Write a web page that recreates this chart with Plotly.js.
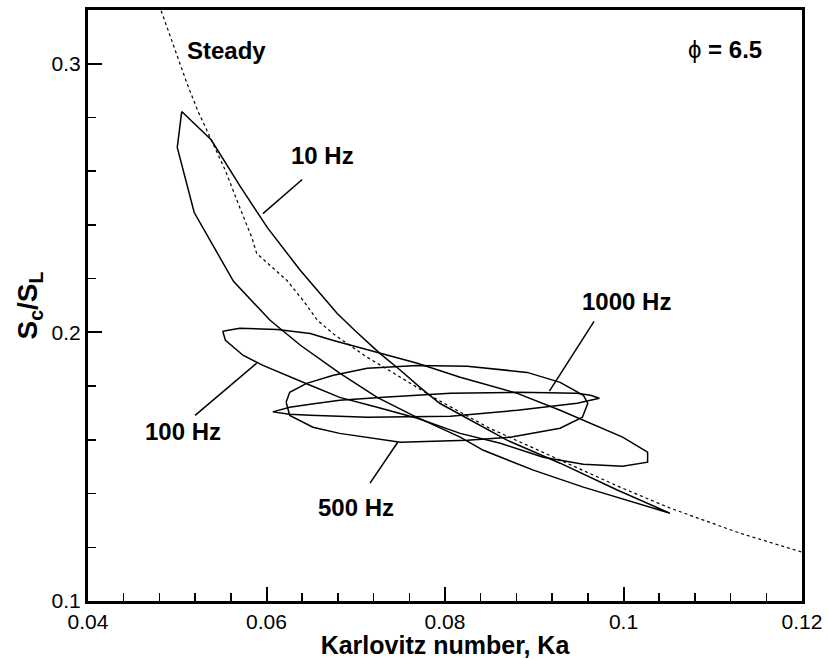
<!DOCTYPE html>
<html>
<head>
<meta charset="utf-8">
<script src="https://cdn.plot.ly/plotly-3.0.1.min.js"></script>
<style>html,body{margin:0;padding:0;background:#fff;}#chart{width:828px;height:659px;}</style>
</head>
<body>
<div id="chart"></div>
<script>
// Steady (dotted) curve
const steadyKa = [0.0482, 0.0498, 0.0511, 0.0523, 0.0537, 0.0554, 0.0570, 0.0584, 0.0589, 0.0604, 0.0623, 0.0641, 0.0657, 0.0677, 0.0713, 0.0750, 0.0787, 0.0850, 0.0929, 0.0996, 0.1052, 0.1130, 0.1200];
const steadyS  = [0.3197, 0.3048, 0.2926, 0.2825, 0.2725, 0.2602, 0.2465, 0.2349, 0.2294, 0.2249, 0.2193, 0.2119, 0.2045, 0.1989, 0.1907, 0.1833, 0.1758, 0.1643, 0.1524, 0.1424, 0.1346, 0.1253, 0.1182];

// 10 Hz loop
const hz10Ka = [0.0505, 0.0538, 0.0570, 0.0601, 0.0638, 0.0679, 0.0699, 0.0727, 0.0750, 0.0772, 0.0794, 0.0828, 0.0870, 0.0929, 0.0993, 0.1052,
                0.1015, 0.0955, 0.0899, 0.0843, 0.0817, 0.0764, 0.0724, 0.0682, 0.0638, 0.0604, 0.0563, 0.0519, 0.0500, 0.0505];
const hz10S  = [0.2822, 0.2717, 0.2546, 0.2390, 0.2230, 0.2071, 0.2007, 0.1922, 0.1859, 0.1795, 0.1736, 0.1673, 0.1598, 0.1513, 0.1413, 0.1327,
                0.1364, 0.1424, 0.1487, 0.1561, 0.1610, 0.1691, 0.1758, 0.1848, 0.1952, 0.2045, 0.2190, 0.2446, 0.2688, 0.2822];

// 100 Hz loop
const hz100Ka = [0.0551, 0.0570, 0.0612, 0.0649, 0.0675, 0.0724, 0.0769, 0.0817, 0.0881, 0.0929, 0.0999, 0.1027, 0.1027, 0.0999, 0.0955, 0.0910,
                 0.0862, 0.0817, 0.0769, 0.0724, 0.0682, 0.0649, 0.0623, 0.0596, 0.0574, 0.0554, 0.0551];
const hz100S  = [0.2004, 0.2015, 0.2011, 0.1996, 0.1970, 0.1926, 0.1885, 0.1833, 0.1773, 0.1710, 0.1610, 0.1554, 0.1517, 0.1502, 0.1509, 0.1535,
                 0.1587, 0.1624, 0.1680, 0.1721, 0.1758, 0.1803, 0.1840, 0.1877, 0.1914, 0.1970, 0.2004];

// 500 Hz loop
const hz500Ka = [0.0622, 0.0626, 0.0645, 0.0675, 0.0713, 0.0769, 0.0825, 0.0892, 0.0929, 0.0955, 0.0960, 0.0954, 0.0929, 0.0873, 0.0825, 0.0750,
                 0.0682, 0.0652, 0.0626, 0.0622];
const hz500S  = [0.1740, 0.1777, 0.1810, 0.1840, 0.1866, 0.1877, 0.1874, 0.1851, 0.1814, 0.1766, 0.1736, 0.1684, 0.1643, 0.1610, 0.1598, 0.1591,
                 0.1624, 0.1647, 0.1691, 0.1740];

// 1000 Hz loop
const hz1000Ka = [0.0607, 0.0626, 0.0649, 0.0682, 0.0731, 0.0806, 0.0881, 0.0948, 0.0963, 0.0973, 0.0948, 0.0881, 0.0806, 0.0713, 0.0649, 0.0626, 0.0607];
const hz1000S  = [0.1704, 0.1721, 0.1732, 0.1747, 0.1758, 0.1773, 0.1777, 0.1773, 0.1766, 0.1755, 0.1736, 0.1710, 0.1688, 0.1684, 0.1691, 0.1695, 0.1704];

// Labels
const labelText = ['<b>Steady</b>', 'ϕ <b>= 6.5</b>', '<b>10 Hz</b>', '<b>100 Hz</b>', '<b>500 Hz</b>', '<b>1000 Hz</b>'];
const labelKa   = [0.0555, 0.1114, 0.0663, 0.0506, 0.0700, 0.1003];
const labelS    = [0.3048, 0.3052, 0.2658, 0.1632, 0.1349, 0.2115];

// Leader lines: [Ka0, S0, Ka1, S1]
const leaderKa0 = [0.0640, 0.0520, 0.0716, 0.0967];
const leaderS0  = [0.2569, 0.1691, 0.1439, 0.2041];
const leaderKa1 = [0.0596, 0.0589, 0.0747, 0.0917];
const leaderS1  = [0.2442, 0.1885, 0.1591, 0.1781];

const FONT = 'Liberation Sans, Arial, Helvetica, sans-serif';
const solid = {color: '#000', width: 1.5};

const traces = [
  {x: steadyKa, y: steadyS, mode: 'lines', line: {color: '#000', width: 1.2, dash: 'dot'}, name: 'Steady'},
  {x: hz10Ka, y: hz10S, mode: 'lines', line: solid, name: '10 Hz'},
  {x: hz100Ka, y: hz100S, mode: 'lines', line: solid, name: '100 Hz'},
  {x: hz500Ka, y: hz500S, mode: 'lines', line: solid, name: '500 Hz'},
  {x: hz1000Ka, y: hz1000S, mode: 'lines', line: solid, name: '1000 Hz'}
];

const annotations = labelText.map((t, i) => ({
  x: labelKa[i], y: labelS[i], xref: 'x', yref: 'y', text: t, showarrow: false,
  font: {family: FONT, size: 24, color: '#000'}, xanchor: 'center', yanchor: 'middle'
}));

const shapes = leaderKa0.map((k, i) => ({
  type: 'line', xref: 'x', yref: 'y', x0: k, y0: leaderS0[i], x1: leaderKa1[i], y1: leaderS1[i],
  line: {color: '#000', width: 1.5}
}));

const layout = {
  width: 828, height: 659,
  margin: {l: 88, r: 26, t: 10, b: 58},
  paper_bgcolor: '#fff', plot_bgcolor: '#fff',
  showlegend: false,
  font: {family: FONT, color: '#000'},
  xaxis: {
    range: [0.04, 0.12], tick0: 0.04, dtick: 0.02,
    ticks: 'inside', ticklen: 14, tickwidth: 2, tickcolor: '#000',
    minor: {dtick: 0.004, ticks: 'inside', ticklen: 8, tickwidth: 1.5, tickcolor: '#000', showgrid: false},
    showline: true, linewidth: 3, linecolor: '#000', mirror: true,
    showgrid: false, zeroline: false,
    tickfont: {family: FONT, size: 21, color: '#000'},
    title: {text: '<b>Karlovitz number, Ka</b>', font: {family: FONT, size: 25, color: '#000'}, standoff: 3}
  },
  yaxis: {
    range: [0.1, 0.32], tick0: 0.1, dtick: 0.1,
    ticks: 'inside', ticklen: 14, tickwidth: 2, tickcolor: '#000',
    minor: {dtick: 0.02, ticks: 'inside', ticklen: 8, tickwidth: 1.5, tickcolor: '#000', showgrid: false},
    showline: true, linewidth: 3, linecolor: '#000', mirror: true,
    showgrid: false, zeroline: false,
    tickfont: {family: FONT, size: 21, color: '#000'},
    title: {text: '<b>S<sub>c</sub>/S<sub>L</sub></b>', font: {family: FONT, size: 28, color: '#000'}, standoff: 6}
  },
  annotations: annotations,
  shapes: shapes
};

Plotly.newPlot('chart', traces, layout, {displayModeBar: false, staticPlot: true});
</script>
</body>
</html>
